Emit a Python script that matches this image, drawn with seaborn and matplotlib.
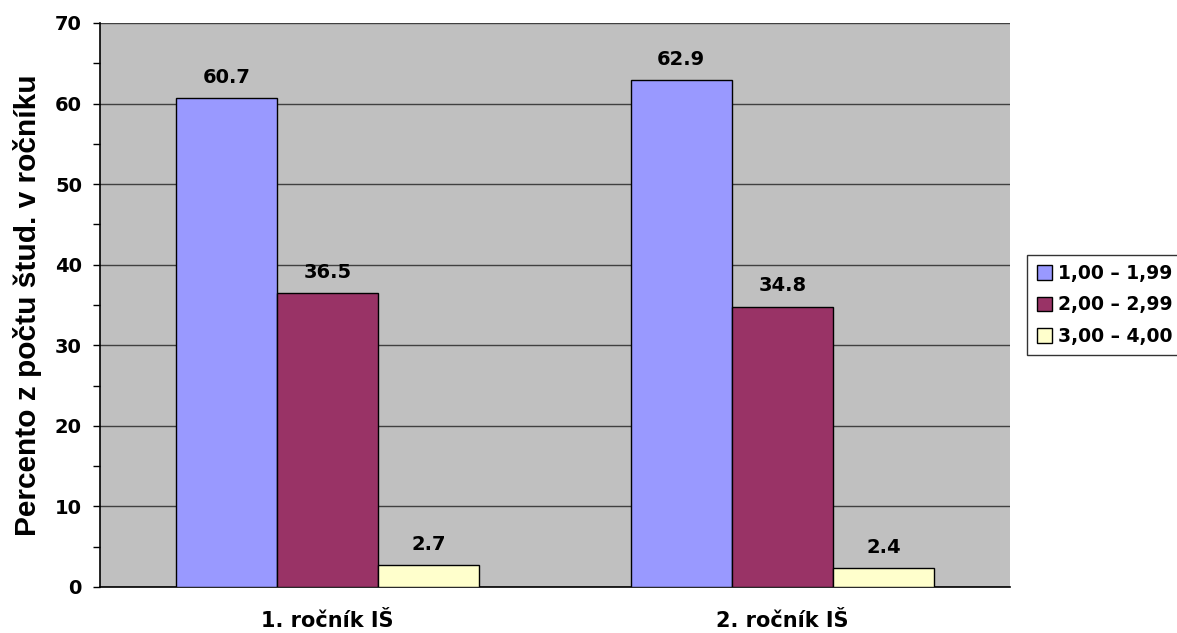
import matplotlib
matplotlib.use("Agg")
import matplotlib.pyplot as plt
from matplotlib.ticker import MultipleLocator
import pandas as pd
import seaborn as sns

categories = ["1. ročník IŠ", "2. ročník IŠ"]
groups = ["1,00 – 1,99", "2,00 – 2,99", "3,00 – 4,00"]
values_1 = [60.7, 36.5, 2.7]
values_2 = [62.9, 34.8, 2.4]
colors = ["#9999FF", "#993366", "#FFFFCC"]

df = pd.DataFrame({
    "rocnik": [categories[0]] * 3 + [categories[1]] * 3,
    "priemer": groups + groups,
    "percento": values_1 + values_2,
})

sns.set_theme(style="white")
plt.rcParams["font.family"] = ["DejaVu Sans"]
plt.rcParams["font.weight"] = "bold"
plt.rcParams["text.color"] = "black"
plt.rcParams["axes.labelcolor"] = "black"
plt.rcParams["xtick.color"] = "black"
plt.rcParams["ytick.color"] = "black"

fig = plt.figure(figsize=(11.77, 6.33), dpi=100)
ax = fig.add_axes([0.085, 0.0727, 0.773, 0.891])
ax.set_facecolor("#C0C0C0")

sns.barplot(data=df, x="rocnik", y="percento", hue="priemer", hue_order=groups,
            palette=colors, width=0.667, edgecolor="black", linewidth=1.0,
            saturation=1, ax=ax, zorder=3)

for container in ax.containers:
    ax.bar_label(container, fmt="%.1f", padding=8, fontsize=14, fontweight="bold",
                 color="black")

ax.set_ylim(0, 70)
ax.set_xlim(-0.5, 1.5)
ax.yaxis.set_major_locator(MultipleLocator(10))
ax.yaxis.set_minor_locator(MultipleLocator(5))
ax.grid(axis="y", which="major", color="#404040", linewidth=1.0, zorder=0)
ax.set_axisbelow(True)

ax.set_xticks([0.5], minor=False)
ax.set_xticklabels([""])
ax.set_xticks([0, 1], minor=True)
ax.set_xticklabels(categories, minor=True, fontsize=15, fontweight="bold")
ax.tick_params(axis="x", which="major", direction="out", length=6, width=1, color="#555555")
ax.tick_params(axis="x", which="minor", length=0, pad=17)
ax.tick_params(axis="y", which="both", direction="out", left=True, length=5, width=1,
               color="black", labelsize=14, pad=8)
for lbl in ax.get_yticklabels():
    lbl.set_fontweight("bold")

for side in ["top", "right"]:
    ax.spines[side].set_visible(False)
ax.spines["left"].set_color("black")
ax.spines["bottom"].set_color("black")
ax.spines["left"].set_linewidth(1.2)
ax.spines["bottom"].set_linewidth(1.2)

ax.set_xlabel("")
ax.set_ylabel("Percento z počtu štud. v ročníku", fontsize=21.5, fontweight="bold",
              family="Liberation Sans")
ax.yaxis.set_label_coords(-0.064, 0.5)

leg = ax.legend(loc="center left", bbox_to_anchor=(1.019, 0.5), frameon=True,
                fontsize=13.5, handlelength=0.8, handleheight=0.8, handletextpad=0.35,
                borderpad=0.5, labelspacing=0.66, fancybox=False, borderaxespad=0)
leg.get_frame().set_edgecolor("black")
leg.get_frame().set_linewidth(1.0)
for t in leg.get_texts():
    t.set_fontweight("bold")

fig.savefig("out.png", dpi=100)
